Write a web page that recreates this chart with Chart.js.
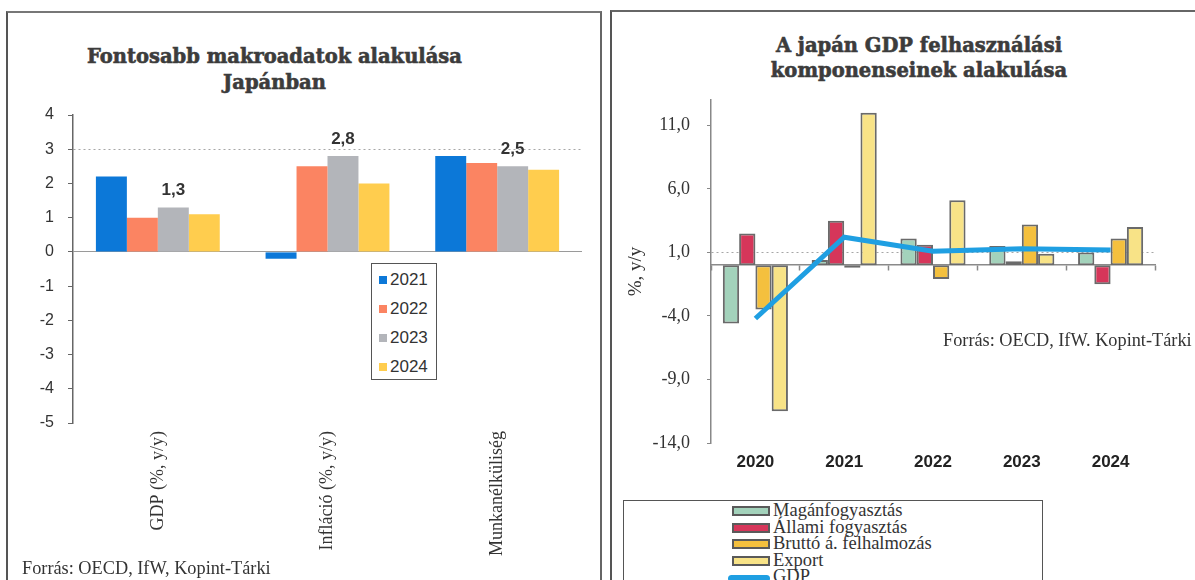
<!DOCTYPE html>
<html>
<head>
<meta charset="utf-8">
<script src="https://cdn.jsdelivr.net/npm/chart.js@4.4.0/dist/chart.umd.min.js"></script>
<style>
  body { margin: 0; width: 1195px; height: 580px; background: #fff; position: relative; overflow: hidden; color: #333; }
  .panel { position: absolute; box-sizing: border-box; }
  #leftPanel { left: 6px; top: 11px; width: 596px; height: 600px; border-left: 2px solid #555; border-top: 2px solid #777; border-right: 2px solid #666; }
  #rightPanel { left: 610px; top: 10px; width: 600px; height: 600px; border-left: 2px solid #555; border-top: 2px solid #666; }
  .title { position: absolute; text-align: center; font-family: "DejaVu Serif", serif; font-weight: bold; font-size: 19.5px; color: #3c3c3c; -webkit-text-stroke: 0.6px #3c3c3c; }
  .note { position: absolute; font-family: "Liberation Serif", serif; font-size: 18.3px; line-height: 20px; color: #333; white-space: nowrap; }
  .box { position: absolute; }
  canvas { position: absolute; }
  #macroLegend { left: 371px; top: 263px; width: 66px; height: 117px; box-sizing: border-box; border: 1.5px solid #555; background: #fff; }
  #macroLegend div { position: absolute; left: 7px; height: 20px; line-height: 20px; font-family: "Liberation Sans", sans-serif; font-size: 17px; color: #333; }
  #macroLegend span { display: inline-block; width: 8px; height: 8px; margin-right: 3px; vertical-align: 1px; }
  #gdpLegend { left: 623px; top: 500px; width: 420px; height: 100px; box-sizing: border-box; border: 1.5px solid #555; background: #fff; }
  #gdpLegend div { position: absolute; left: 108px; height: 17px; line-height: 17px; font-family: "Liberation Serif", serif; font-size: 18.5px; color: #333; white-space: nowrap; }
  #gdpLegend span { display: inline-block; box-sizing: border-box; width: 38px; height: 10px; border: 2px solid #5a5a5a; margin-right: 3px; vertical-align: 0px; }
  #gdpLegend span.line { height: 7px; width: 42px; border: none; border-radius: 4px; margin-left: -4px; }
</style>
</head>
<body>
<div class="panel" id="leftPanel"></div>
<div class="panel" id="rightPanel"></div>

<div class="title" style="left:0; width:549px; top:44px; line-height:26px;">Fontosabb makroadatok alakulása<br>Japánban</div>
<div class="title" style="left:700px; width:438px; top:33px; line-height:25px;">A japán GDP felhasználási<br>komponenseinek alakulása</div>

<canvas id="macro-chart" width="590" height="478" style="left:8px; top:100px;"></canvas>
<canvas id="gdp-chart" width="583" height="392" style="left:612px; top:88px;"></canvas>

<div class="box" id="macroLegend"></div>
<div class="box" id="gdpLegend"></div>

<div class="note" style="left:22px; top:558px;">Forrás: OECD, IfW, Kopint-Tárki</div>
<div class="note" style="left:943px; top:330px;">Forrás: OECD, IfW. Kopint-Tárki</div>

<script>
// macro indicators, yearly
var macroCategories = ['GDP (%, y/y)', 'Infláció (%, y/y)', 'Munkanélküliség'];
var macroYears = ['2021', '2022', '2023', '2024'];
var macro2021 = [2.2, -0.2, 2.8];
var macro2022 = [1.0, 2.5, 2.6];
var macro2023 = [1.3, 2.8, 2.5];
var macro2024 = [1.1, 2.0, 2.4];
var macroColors = ['#0c78d8', '#fb8462', '#b3b5ba', '#ffcd4e'];

// GDP demand components
var gdpYears = ['2020', '2021', '2022', '2023', '2024'];
var privateConsumption = [-4.6, 0.4, 2.1, 1.5, 1.0];
var publicConsumption = [2.5, 3.5, 1.6, 0.3, -1.5];
var grossCapital = [-3.5, -0.2, -1.1, 3.2, 2.1];
var exportGrowth = [-11.5, 12.0, 5.1, 0.9, 3.0];
var gdpGrowth = [-4.2, 2.2, 1.1, 1.3, 1.2];
var gdpTicks = [-14, -9, -4, 1, 6, 11];
var componentLabels = ['Magánfogyasztás', 'Állami fogyasztás', 'Bruttó á. felhalmozás', 'Export', 'GDP'];
var componentColors = ['#a3d2bb', '#d6365a', '#f4c03e', '#f8e387', '#1f9fe2'];

function comma(v) {
  return v.toFixed(1).replace('.', ',');
}

// fixed axis width, and no extra label padding so layout.padding decides the plot box
function fixWidth(w) {
  return function (s) {
    s.width = w;
    s.paddingTop = 0;
    s.paddingBottom = 0;
  };
}

// writes the value over each bar of one dataset
var valueLabels = {
  id: 'valueLabels',
  afterDatasetsDraw: function (chart, args, opts) {
    var ctx = chart.ctx;
    var ds = chart.data.datasets[opts.dataset];
    ctx.save();
    ctx.font = 'bold 17px "Liberation Sans"';
    ctx.fillStyle = '#333';
    ctx.textAlign = 'center';
    ctx.textBaseline = 'middle';
    chart.getDatasetMeta(opts.dataset).data.forEach(function (bar, i) {
      ctx.fillText(comma(ds.data[i]), bar.x, bar.y - 17);
    });
    ctx.restore();
  }
};

var macroSeries = [macro2021, macro2022, macro2023, macro2024];

new Chart(document.getElementById('macro-chart'), {
  type: 'bar',
  data: {
    labels: macroCategories,
    datasets: macroSeries.map(function (values, i) {
      return {
        label: macroYears[i],
        data: values,
        backgroundColor: macroColors[i],
        categoryPercentage: 0.73,
        barPercentage: 1.0
      };
    })
  },
  options: {
    responsive: false,
    animation: false,
    layout: { padding: { left: 0, right: 16, top: 15, bottom: 0 } },
    plugins: {
      legend: { display: false },
      tooltip: { enabled: false },
      valueLabels: { dataset: 2 }
    },
    scales: {
      x: {
        grid: { display: false, drawTicks: false },
        border: { display: false },
        ticks: {
          color: '#333',
          font: { family: 'Liberation Serif', size: 18 },
          minRotation: 90,
          maxRotation: 90,
          padding: 8
        },
        afterFit: function (s) { s.height = 155; }
      },
      y: {
        min: -5,
        max: 4,
        ticks: {
          stepSize: 1,
          color: '#333',
          font: { family: 'Liberation Sans', size: 16 },
          padding: 14
        },
        grid: {
          color: function (c) {
            if (!c.tick) return 'rgba(0,0,0,0)';
            if (c.tick.value === 0) return '#9a9a9a';
            if (c.tick.value === 3) return 'rgba(0,0,0,0.35)';
            return 'rgba(0,0,0,0)';
          },
          tickColor: '#666',
          tickLength: 5
        },
        border: {
          color: '#666',
          width: 1.5,
          dash: function (c) { return (c.tick && c.tick.value === 0) ? [] : [2, 3]; }
        },
        afterFit: fixWidth(65)
      }
    }
  },
  plugins: [valueLabels]
});

// legend box for the macro chart
var macroLegend = document.getElementById('macroLegend');
var macroRows = [6, 35, 64, 93];
macroYears.forEach(function (year, i) {
  var row = document.createElement('div');
  row.style.top = macroRows[i] + 'px';
  row.innerHTML = '<span style="background:' + macroColors[i] + '"></span>' + year;
  macroLegend.appendChild(row);
});

var componentSeries = [privateConsumption, publicConsumption, grossCapital, exportGrowth];

var gdpDatasets = componentSeries.map(function (values, i) {
  return {
    type: 'bar',
    label: componentLabels[i],
    data: values,
    backgroundColor: componentColors[i],
    borderColor: '#6a6a6a',
    borderWidth: 2,
    borderSkipped: false,
    categoryPercentage: 0.733,
    barPercentage: 1.0,
    order: 1
  };
});
gdpDatasets.push({
  type: 'line',
  label: componentLabels[4],
  data: gdpGrowth,
  borderColor: componentColors[4],
  borderWidth: 5,
  pointRadius: 0,
  tension: 0,
  order: 0
});

new Chart(document.getElementById('gdp-chart'), {
  type: 'bar',
  data: {
    labels: gdpYears,
    datasets: gdpDatasets
  },
  options: {
    responsive: false,
    animation: false,
    layout: { padding: { left: 0, right: 40, top: 12, bottom: 0 } },
    plugins: {
      legend: { display: false },
      tooltip: { enabled: false }
    },
    scales: {
      x: {
        grid: { display: false, drawTicks: false },
        border: { display: false },
        ticks: {
          color: '#222',
          font: { family: 'Liberation Sans', size: 17, weight: 'bold' },
          padding: 9
        },
        afterFit: function (s) { s.height = 37; }
      },
      // zero line with its small category ticks
      x2: {
        type: 'category',
        position: { y: 0 },
        offset: true,
        grid: { display: true, drawOnChartArea: false, offset: true, tickLength: 5, tickColor: '#888', tickWidth: 1.5 },
        ticks: { display: false },
        border: { color: '#8a8a8a', width: 1.5 }
      },
      y: {
        min: -14,
        max: 13,
        afterBuildTicks: function (s) {
          s.ticks = gdpTicks.map(function (v) { return { value: v }; });
        },
        ticks: {
          callback: function (v) { return comma(v); },
          color: '#333',
          font: { family: 'Liberation Serif', size: 18 },
          padding: 17
        },
        grid: {
          color: function (c) {
            return (c.tick && c.tick.value === 1) ? 'rgba(0,0,0,0.35)' : 'rgba(0,0,0,0)';
          },
          tickColor: '#888',
          tickLength: 4
        },
        border: {
          color: '#888',
          width: 1.5,
          dash: function () { return [2, 3]; }
        },
        title: {
          display: true,
          text: '%, y/y',
          color: '#333',
          font: { family: 'Liberation Serif', size: 19 },
          padding: { top: 13, bottom: 0 }
        },
        afterFit: fixWidth(99)
      }
    }
  }
});

// legend box for the components chart
var gdpLegend = document.getElementById('gdpLegend');
componentLabels.forEach(function (label, i) {
  var row = document.createElement('div');
  row.style.top = (1 + i * 16.5) + 'px';
  var swatch = i === 4
    ? '<span class="line" style="background:' + componentColors[i] + '"></span>'
    : '<span style="background:' + componentColors[i] + '"></span>';
  row.innerHTML = swatch + label;
  gdpLegend.appendChild(row);
});
</script>
</body>
</html>
